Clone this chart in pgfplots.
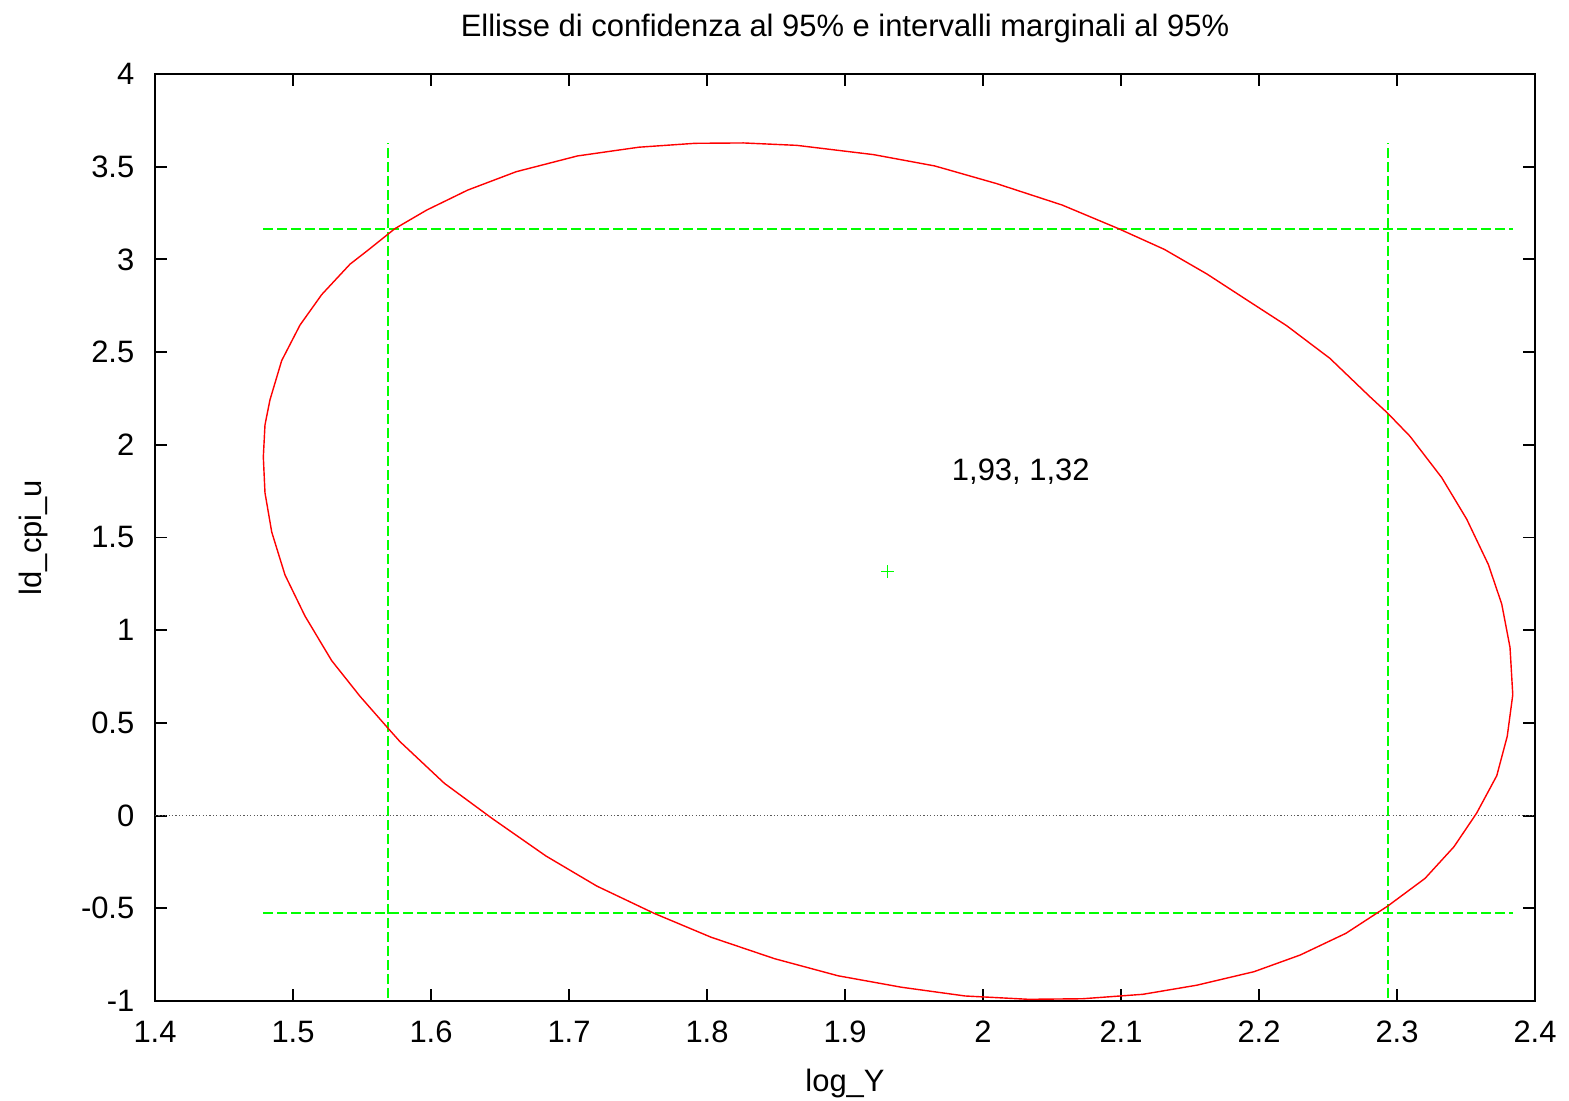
\documentclass[border=0pt]{standalone}
\usepackage{fontspec}
\setmainfont{Liberation Sans}
\usepackage{pgfplots}
\pgfplotsset{compat=1.18}
\definecolor{gpred}{HTML}{FF0000}
\definecolor{gpgreen}{HTML}{00FF00}

\begin{document}
\begin{tikzpicture}
\begin{axis}[
  scale only axis,
  width=138mm,height=92.7mm,
  xmin=1.4,xmax=2.4,ymin=-1,ymax=4,
  xtick={1.4,1.5,1.6,1.7,1.8,1.9,2,2.1,2.2,2.3,2.4},
  ytick={-1,-0.5,0,0.5,1,1.5,2,2.5,3,3.5,4},
  minor tick num=0,
  tick align=inside,
  major tick length=1.2mm,
  every tick/.style={black,line width=0.55pt},
  axis line style={line width=0.75pt},
  /pgf/number format/assume math mode=true,
  tick label style={font=\fontsize{8.8}{10}\selectfont,inner sep=0pt},
  xticklabel style={anchor=base,yshift=-4.2mm},
  yticklabel style={anchor=east,xshift=-2mm},
  label style={font=\fontsize{8.8}{10}\selectfont,inner sep=0pt},
  xlabel={log\_Y},
  xlabel style={at={(axis description cs:0.5,-0.0978)},anchor=base},
  ylabel={ld\_cpi\_u},
  ylabel style={at={(axis description cs:-0.0821,0.5)},anchor=base},
  title={Ellisse di confidenza al 95\% e intervalli marginali al 95\%},
  every axis title shift=0pt,
  title style={font=\fontsize{8.8}{10}\selectfont,inner sep=0pt,at={(axis description cs:0.5,1.0402)},anchor=base},
  clip=false,
]
% zero line
\addplot[gray!70!black,line width=0.4pt,dash pattern=on 0.12mm off 0.22mm] coordinates {(1.4,0) (2.4,0)};
% marginal intervals
\addplot[gpgreen,line width=0.55pt,dash pattern=on 1mm off 0.4mm] coordinates {(1.5691,-0.984) (1.5691,3.626)};
\addplot[gpgreen,line width=0.55pt,dash pattern=on 1mm off 0.4mm] coordinates {(2.2937,-0.984) (2.2937,3.626)};
\addplot[gpgreen,line width=0.55pt,dash pattern=on 1mm off 0.4mm] coordinates {(1.4783,3.166) (2.3838,3.166)};
\addplot[gpgreen,line width=0.55pt,dash pattern=on 1mm off 0.4mm] coordinates {(1.4783,-0.527) (2.3838,-0.527)};
% confidence ellipse
\addplot[gpred,line width=0.4pt,sharp plot] coordinates {
(1.4785,1.934) (1.4797,2.107) (1.4833,2.242) (1.4918,2.454) (1.5051,2.646)
(1.5208,2.810) (1.5413,2.974) (1.5546,3.051) (1.5739,3.166) (1.5969,3.266)
(1.6267,3.374) (1.6618,3.473) (1.7062,3.558) (1.7506,3.605) (1.7912,3.626)
(1.8264,3.628) (1.8651,3.615) (1.9207,3.565) (1.9650,3.504) (2.0093,3.410)
(2.0574,3.293) (2.0981,3.166) (2.1314,3.054) (2.1623,2.921) (2.1935,2.770)
(2.2201,2.642) (2.2514,2.466) (2.2804,2.259) (2.2933,2.170) (2.3094,2.046)
(2.3324,1.823) (2.3505,1.599) (2.3662,1.354) (2.3759,1.141) (2.3819,0.907)
(2.3839,0.652) (2.3799,0.428) (2.3723,0.215) (2.3577,0.013) (2.3413,-0.168)
(2.3203,-0.339) (2.2933,-0.488) (2.2630,-0.635) (2.2299,-0.752) (2.1964,-0.842)
(2.1549,-0.915) (2.1159,-0.964) (2.0721,-0.988) (2.0330,-0.991) (1.9870,-0.973)
(1.9410,-0.926) (1.8949,-0.864) (1.8490,-0.772) (1.8029,-0.656) (1.7616,-0.527)
(1.7201,-0.380) (1.6833,-0.218) (1.6442,-0.015) (1.6097,0.174) (1.5775,0.399)
(1.5691,0.469) (1.5486,0.643) (1.5280,0.836) (1.5087,1.076) (1.4942,1.298)
(1.4846,1.529) (1.4797,1.741) (1.4785,1.934)};
% point estimate
\addplot[gpgreen,only marks,mark=+,mark size=0.65mm,mark options={line width=0.4pt}] coordinates {(1.931,1.316)};
\node[anchor=west,inner sep=0pt,font=\fontsize{8.8}{10}\selectfont] at (axis cs:1.977,1.853) {1,93, 1,32};
\end{axis}
\pgfresetboundingbox
\path[use as bounding box] (-15.5mm,-10mm) rectangle (141.4mm,100.1mm);
\end{tikzpicture}
\end{document}
